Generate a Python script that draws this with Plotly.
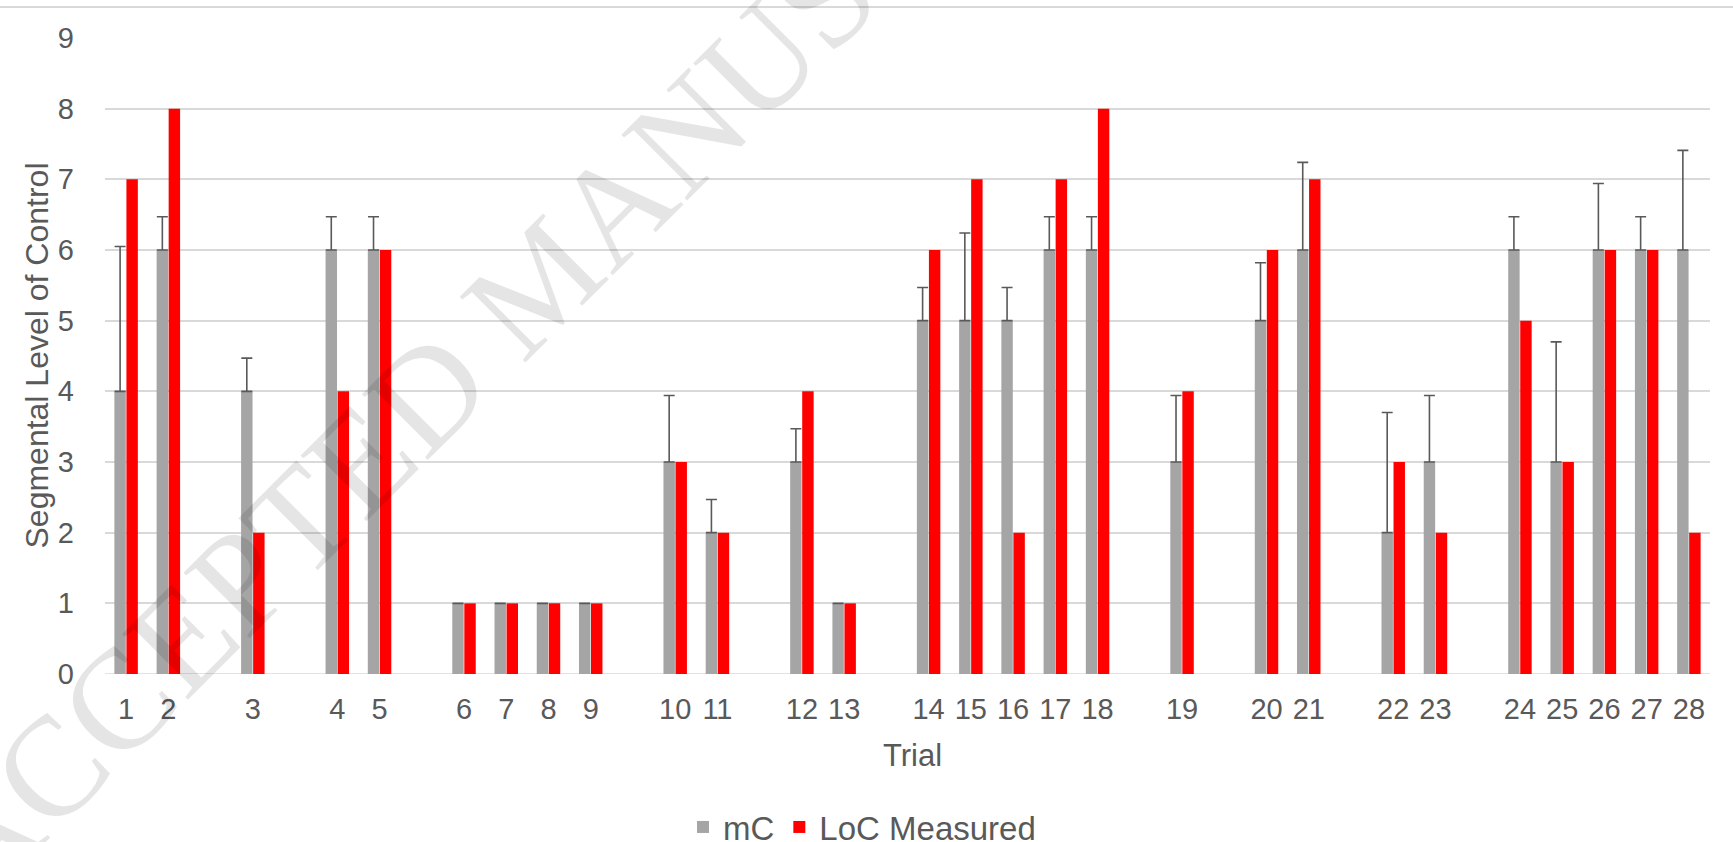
import plotly.graph_objects as go

# Category slots along the x axis ("" = empty spacer slot, as in the source chart)
categories = ["1", "2", "", "3", "", "4", "5", "", "6", "7", "8", "9", "",
              "10", "11", "", "12", "13", "", "14", "15", "16", "17", "18", "",
              "19", "", "20", "21", "", "22", "23", "", "24", "25", "26", "27", "28"]

trial_labels = [c for c in categories if c]

mC = [4, 6, 4, 6, 6, 1, 1, 1, 1, 3, 2, 3, 1, 5, 5, 5, 6, 6, 3, 5, 6, 2, 3, 6, 3, 6, 6, 6]
mC_err_plus = [2.05, 0.47, 0.47, 0.47, 0.47, 0, 0, 0, 0, 0.94, 0.47, 0.47, 0, 0.47,
               1.24, 0.47, 0.47, 0.47, 0.94, 0.82, 1.24, 1.70, 0.94, 0.47, 1.70, 0.94, 0.47, 1.41]
loc_measured = [7, 8, 2, 4, 6, 1, 1, 1, 1, 3, 2, 4, 1, 6, 7, 2, 7, 8, 4, 6, 7, 3, 2, 5, 3, 6, 6, 2]

y_ticks = list(range(0, 10))

x_pos = [i for i, c in enumerate(categories) if c]

TEXT = "#595959"
GRID = "#d9d9d9"
FONT = "Liberation Sans, Arial, sans-serif"

fig = go.Figure()
fig.add_trace(go.Bar(
    name="mC", x=x_pos, y=mC,
    marker=dict(color="#a5a5a5", line=dict(width=0)),
    error_y=dict(type="data", symmetric=False, array=mC_err_plus,
                 arrayminus=[0] * len(mC), color="#595959", thickness=1.6, width=5.5),
))
fig.add_trace(go.Bar(
    name="LoC Measured", x=x_pos, y=loc_measured,
    marker=dict(color="#ff0000", line=dict(width=0)),
))

L, R, T, B = 105, 23, 38, 168
W, H = 1733, 842
ph = H - T - B
pw = W - L - R

fig.update_layout(
    width=W, height=H,
    margin=dict(l=L, r=R, t=T, b=B, autoexpand=False),
    paper_bgcolor="white", plot_bgcolor="white",
    font=dict(family=FONT, color=TEXT, size=29),
    barmode="group", bargap=0.43, bargroupgap=0.05,
    showlegend=True,
    legend=dict(orientation="h", x=(862 - L) / pw, xanchor="center",
                y=(H - B - 827) / ph, yanchor="middle",
                font=dict(size=33, color=TEXT), itemwidth=30,
                bgcolor="rgba(0,0,0,0)"),
    xaxis=dict(range=[-0.5, len(categories) - 0.5], tickmode="array",
               tickvals=x_pos, ticktext=trial_labels, showgrid=False,
               zeroline=False, showline=False, ticks="", automargin=False,
               tickfont=dict(size=29, color=TEXT), ticklabelstandoff=15),
    yaxis=dict(range=[0, 9], tickvals=y_ticks, showgrid=True, gridcolor=GRID,
               gridwidth=1.6, zeroline=False, showline=False, ticks="", automargin=False,
               tickfont=dict(size=29, color=TEXT), ticklabelstandoff=30),
    annotations=[
        dict(text="Trial", xref="paper", yref="paper", x=0.503,
             y=(H - B - 755) / ph, xanchor="center", yanchor="middle",
             showarrow=False, font=dict(size=31, color=TEXT)),
        dict(text="Segmental Level of Control", xref="paper", yref="paper",
             x=(36.5 - L) / pw, y=0.5, textangle=-90, xanchor="center",
             yanchor="middle", showarrow=False, font=dict(size=32, color=TEXT)),
        dict(text="ACCEPTED MANUSCRIPT", xref="paper", yref="paper",
             x=(540 - L) / pw, y=(H - B - 280) / ph, textangle=-45,
             xanchor="center", yanchor="middle", showarrow=False,
             font=dict(family="Liberation Serif, Times New Roman, serif", size=142,
                       color="rgba(0,0,0,0.10)")),
    ],
    shapes=[
        dict(type="line", xref="paper", yref="paper", x0=-L / pw, x1=1 + R / pw,
             y0=(H - B - 7) / ph, y1=(H - B - 7) / ph, line=dict(color=GRID, width=2)),
        dict(type="line", xref="paper", yref="y", x0=0, x1=1, y0=0, y1=0,
             line=dict(color=GRID, width=1.6), layer="below"),
    ],
)

fig.write_html("out.html", config={"displayModeBar": False},
               post_script="document.body.style.margin='0';"
                           "document.body.style.overflow='hidden';")
